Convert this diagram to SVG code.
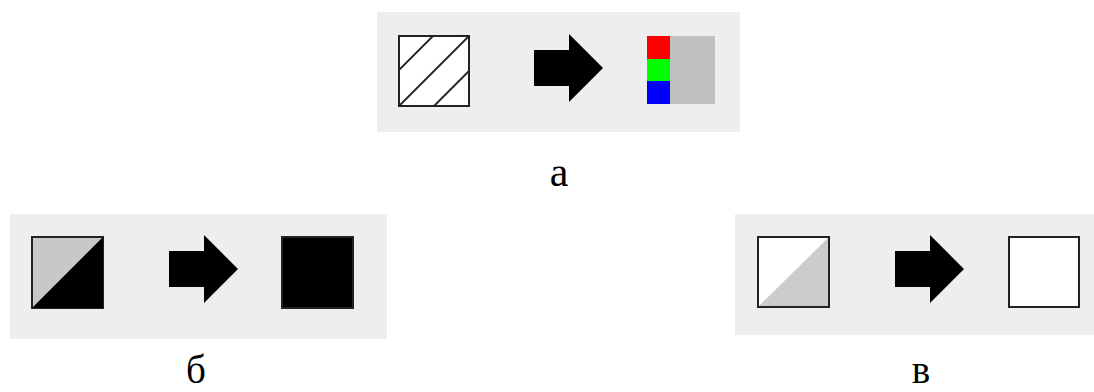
<svg xmlns="http://www.w3.org/2000/svg" width="1094" height="392" viewBox="0 0 1094 392">
  <defs>
    <style>
      .panel { fill: #eeeeee; }
      .box { stroke: #222222; stroke-width: 2; }
      .hatch { stroke: #222222; stroke-width: 1.8; fill: none; }
      .arrow { fill: #000000; }
      .label { font-family: "Liberation Serif", "DejaVu Serif", serif; font-size: 42px; fill: #000000; text-anchor: middle; }
      .label-low { font-size: 39px; }
    </style>
    <!-- block arrow, drawn from its left edge at the origin -->
    <path id="blockArrow" class="arrow" d="M0,16 L35,16 L35,0 L69,34 L35,68 L35,52 L0,52 Z"/>
  </defs>

  <!-- panel a: hatched square becomes colour stripes -->
  <g id="panel-a">
    <rect class="panel" x="377" y="12" width="363" height="120"/>
    <g id="a-source">
      <rect class="box" x="399" y="36" width="70" height="70" fill="#ffffff"/>
      <line class="hatch" x1="399" y1="70" x2="433" y2="36"/>
      <line class="hatch" x1="399" y1="106" x2="469" y2="36"/>
      <line class="hatch" x1="434" y1="106" x2="469" y2="71"/>
    </g>
    <use href="#blockArrow" x="534" y="34"/>
    <g id="a-result">
      <rect x="670" y="36" width="45" height="68" fill="#c0c0c0"/>
      <rect x="647" y="36" width="23" height="23" fill="#ff0000"/>
      <rect x="647" y="59" width="23" height="22" fill="#00ff00"/>
      <rect x="647" y="81" width="23" height="23" fill="#0000ff"/>
    </g>
    <text class="label" x="559" y="186">а</text>
  </g>

  <!-- panel b: half-dark square becomes black -->
  <g id="panel-b">
    <rect class="panel" x="10" y="214" width="377" height="125"/>
    <g id="b-source">
      <rect class="box" x="32" y="237" width="71" height="71" fill="#c8c8c8"/>
      <polygon points="103,237 103,308 32,308" fill="#000000"/>
    </g>
    <use href="#blockArrow" x="169" y="235"/>
    <rect id="b-result" class="box" x="282" y="237" width="71" height="71" fill="#000000"/>
    <text class="label label-low" x="196" y="383">б</text>
  </g>

  <!-- panel c: half-light square becomes white -->
  <g id="panel-c">
    <rect class="panel" x="735" y="214" width="359" height="121"/>
    <g id="c-source">
      <rect class="box" x="758" y="237" width="71" height="70" fill="#ffffff"/>
      <polygon points="829,237 829,307 758,307" fill="#cccccc"/>
      <rect class="box" x="758" y="237" width="71" height="70" fill="none"/>
    </g>
    <use href="#blockArrow" x="895" y="235"/>
    <rect id="c-result" class="box" x="1009" y="237" width="70" height="70" fill="#ffffff"/>
    <text class="label label-low" x="921" y="383">в</text>
  </g>
</svg>
